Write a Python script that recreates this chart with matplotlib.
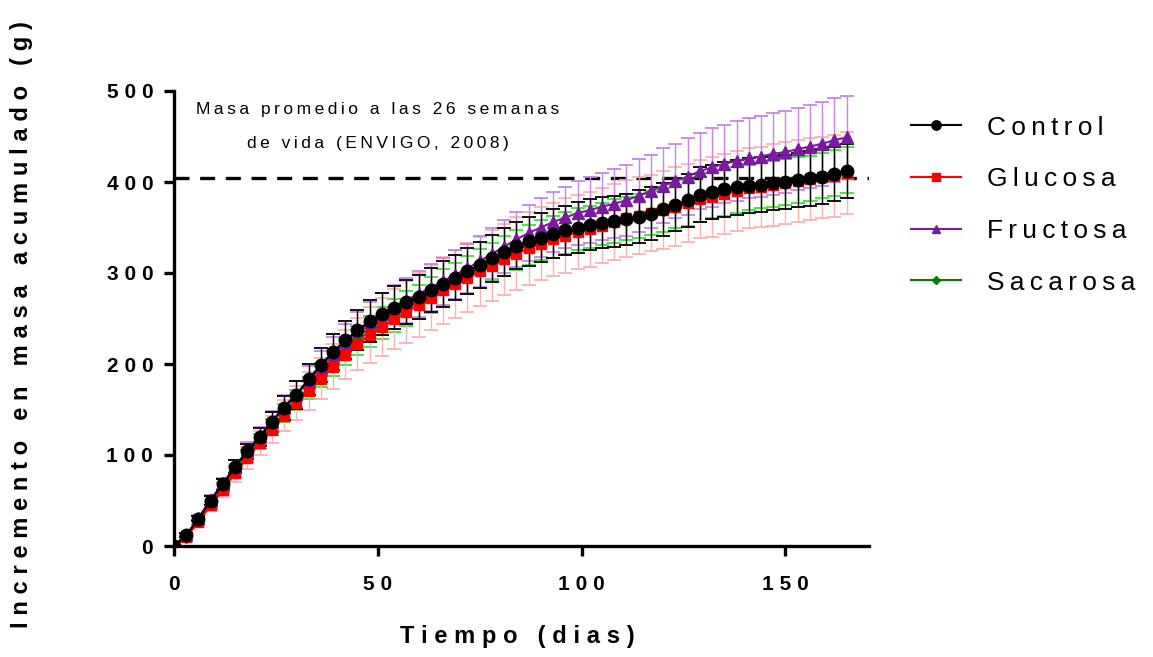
import numpy as np
import matplotlib
matplotlib.use("Agg")
import matplotlib.pyplot as plt

plt.rcParams['font.family'] = ['Liberation Sans', 'DejaVu Sans']

# datos (cada 3 dias)
dias = np.arange(0, 166, 3)

control = [0, 12, 30, 50, 68, 87, 104, 120, 136, 152,
           166, 183, 199, 213, 226, 237, 247, 255, 262, 268,
           274, 281, 288, 295, 302, 309, 316, 323, 330, 335,
           339, 343, 347, 350, 353, 355, 357, 359, 362, 365,
           370, 375, 380, 386, 389, 392, 394, 396, 397, 399,
           400, 402, 404, 406, 409, 412]
glucosa = [0, 10, 26, 45, 62, 80, 97, 113, 128, 143,
           157, 170, 184, 197, 210, 222, 232, 241, 249, 257,
           265, 273, 281, 288, 295, 302, 308, 315, 321, 327,
           332, 337, 341, 345, 348, 352, 356, 360, 363, 366,
           369, 373, 377, 381, 384, 387, 390, 393, 395, 397,
           399, 401, 403, 405, 407, 410]
fructosa = [0, 12, 31, 51, 69, 88, 105, 121, 137, 153,
            167, 182, 197, 211, 224, 236, 246, 255, 263, 270,
            277, 284, 291, 298, 305, 313, 321, 329, 337, 344,
            350, 356, 361, 366, 369, 373, 376, 380, 385, 390,
            396, 401, 406, 412, 416, 420, 423, 426, 428, 431,
            433, 436, 439, 442, 446, 449]
sacarosa = [0, 10, 27, 46, 64, 82, 99, 115, 131, 146,
            160, 174, 188, 201, 214, 226, 236, 245, 253, 261,
            268, 276, 284, 291, 298, 305, 312, 319, 325, 331,
            336, 340, 344, 348, 351, 354, 357, 360, 363, 366,
            369, 373, 377, 381, 385, 388, 391, 394, 396, 398,
            400, 402, 404, 407, 410, 413]

sd_control = [0, 2, 3, 5, 6, 7, 8, 10, 11, 13,
              15, 17, 19, 20, 21, 22, 23, 23, 24, 24,
              24, 24, 25, 25, 25, 25, 26, 26, 26, 27,
              27, 27, 27, 28, 28, 28, 28, 28, 29, 29,
              29, 29, 29, 30, 30, 30, 30, 30, 30, 30,
              30, 30, 30, 30, 30, 30]
sd_glucosa = [0, 2, 4, 6, 8, 10, 12, 13, 15, 17,
              19, 21, 23, 25, 27, 29, 31, 32, 33, 34,
              35, 36, 37, 37, 38, 38, 39, 39, 40, 40,
              40, 40, 41, 41, 41, 41, 42, 42, 42, 42,
              43, 43, 43, 43, 44, 44, 44, 44, 44, 45,
              45, 45, 45, 45, 45, 45]
sd_fructosa = [0, 2, 3, 5, 6, 7, 9, 10, 11, 13,
               14, 16, 17, 19, 20, 21, 22, 23, 24, 25,
               25, 26, 26, 27, 27, 28, 28, 29, 30, 31,
               32, 33, 34, 35, 36, 37, 38, 39, 40, 40,
               41, 41, 42, 42, 43, 43, 44, 44, 44, 45,
               45, 45, 46, 46, 46, 46]
sd_sacarosa = [0, 2, 3, 4, 5, 6, 7, 8, 9, 10,
               11, 12, 13, 14, 15, 16, 17, 18, 18, 19,
               19, 20, 20, 20, 21, 21, 21, 22, 22, 22,
               22, 23, 23, 23, 23, 23, 24, 24, 24, 24,
               24, 24, 25, 25, 25, 25, 25, 25, 25, 25,
               25, 25, 25, 25, 25, 25]

masa_ref = 404  # masa promedio a las 26 semanas


def sp(s, sep='\u2009\u200a'):
    # separa las letras (espaciado ancho como en el original)
    return sep.join(s)


fig = plt.figure(figsize=(11.53, 6.57), dpi=100)
ax = fig.add_axes([174 / 1153, 1 - 546 / 657, 695 / 1153, 455 / 657])

ax.plot([0, 170.5], [masa_ref, masa_ref], color='black', lw=2.4,
        dashes=(4.5, 3.2), zorder=1)

series = [
    ('Sacarosa', sacarosa, sd_sacarosa, '#008000', '#2ee82e', 'D', 6),
    ('Glucosa', glucosa, sd_glucosa, '#ff0000', '#ffb0b0', 's', 7.5),
    ('Fructosa', fructosa, sd_fructosa, '#7a1a9e', '#c984e6', '^', 8.5),
    ('Control', control, sd_control, '#000000', '#000000', 'o', 9),
]
handles = {}
for z, (nombre, y, sd, col, ecol, mk, ms) in enumerate(series):
    ax.errorbar(dias, y, yerr=sd, fmt='none', ecolor=ecol, elinewidth=1.0,
                capsize=5, capthick=1.3, zorder=2 + z)
    h, = ax.plot(dias, y, color=col, marker=mk, markersize=ms, lw=1.5,
                 zorder=6 + z)
    handles[nombre] = h

ax.set_xlim(0, 170.5)
ax.set_ylim(0, 500)
ax.set_xticks([0, 50, 100, 150])
ax.set_yticks([0, 100, 200, 300, 400, 500])
ax.set_xticklabels([sp(str(v)) for v in [0, 50, 100, 150]])
ax.set_yticklabels([sp(str(v)) for v in [0, 100, 200, 300, 400, 500]])
for lab in ax.get_xticklabels() + ax.get_yticklabels():
    lab.set_fontsize(15)
    lab.set_fontweight('bold')

for s in ['top', 'right']:
    ax.spines[s].set_visible(False)
for s in ['left', 'bottom']:
    ax.spines[s].set_linewidth(2.4)
ax.tick_params(width=2.4, length=7)
ax.tick_params(axis='x', pad=14)
ax.tick_params(axis='y', pad=8)

fig.text(22 / 1153, 1 - 325 / 657, sp('Incremento en masa acumulado (g)'),
         rotation=90, ha='center', va='center', fontsize=17, fontweight='bold')
fig.text(517 / 1153, 1 - 636 / 657, sp('Tiempo (dias)'),
         ha='center', va='center', fontsize=17, fontweight='bold')

ax.text(0.2935, 0.96, sp('Masa promedio a las 26 semanas', '\u2009'),
        transform=ax.transAxes, ha='center', va='center', fontsize=12.5)
ax.text(0.2935, 0.885, sp('de vida (ENVIGO, 2008)', '\u2009'),
        transform=ax.transAxes, ha='center', va='center', fontsize=12.5)

# leyenda con marcadores de tamano normal
orden = ['Control', 'Glucosa', 'Fructosa', 'Sacarosa']
leg = ax.legend([handles[n] for n in orden], [sp(n, '\u2009') for n in orden],
                loc='upper left', bbox_to_anchor=(900 / 1153, 1 - 105 / 657),
                bbox_transform=fig.transFigure, frameon=False, fontsize=19,
                handlelength=1.9, handletextpad=1.0, labelspacing=1.05,
                borderaxespad=0, markerscale=0.75)

fig.savefig('out.png', dpi=100)
